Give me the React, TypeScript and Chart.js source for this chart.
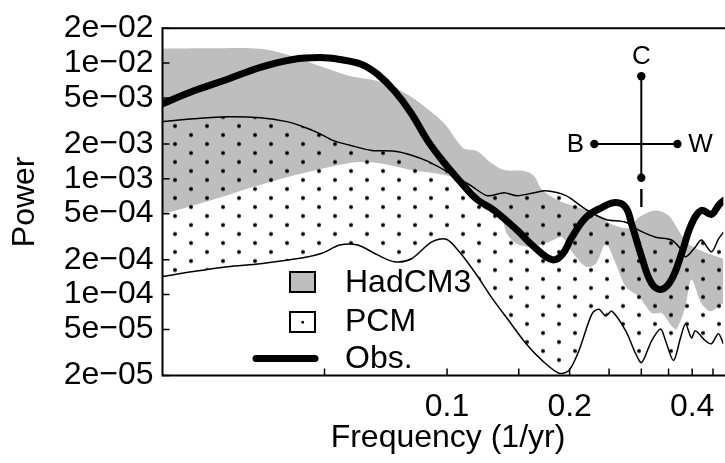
import React, { useEffect, useRef } from "react";
import { Chart, registerables } from "chart.js";

Chart.register(...registerables);

const FONT = "'Liberation Sans', Arial, Helvetica, sans-serif";

// ---- Data (frequency in 1/yr, power) ----
const HADCM3_UPPER_FREQ = [0.02, 0.0262, 0.0348, 0.0418, 0.0487, 0.0577, 0.0675, 0.0743, 0.0818, 0.0895, 0.0985, 0.106, 0.11, 0.1186, 0.1284, 0.1381, 0.1546, 0.1636, 0.1711, 0.1883, 0.2108, 0.232, 0.2539, 0.2794, 0.2956, 0.3253, 0.35, 0.3703, 0.3918, 0.4385, 0.4772];
const HADCM3_UPPER_POWER = [0.0133, 0.0134, 0.0133, 0.01146, 0.00941, 0.00773, 0.00701, 0.00619, 0.00509, 0.00402, 0.003, 0.0021, 0.00183, 0.00173, 0.00137, 0.00119, 0.00117, 0.00106, 0.000804, 0.000648, 0.000565, 0.000492, 0.000405, 0.000375, 0.000464, 0.000533, 0.000483, 0.00036, 0.000273, 0.000225, 0.000204];

const HADCM3_LOWER_FREQ = [0.02, 0.0252, 0.0382, 0.0577, 0.0675, 0.0818, 0.0985, 0.11, 0.1234, 0.1358, 0.1405, 0.1486, 0.1608, 0.178, 0.1915, 0.2026, 0.2193, 0.232, 0.2454, 0.2596, 0.2747, 0.2956, 0.318, 0.3365, 0.356, 0.3662, 0.3852, 0.3984, 0.4215, 0.4435, 0.4772];
const HADCM3_LOWER_POWER = [0.000492, 0.000623, 0.000979, 0.00137, 0.00137, 0.00119, 0.00108, 0.00096, 0.000623, 0.000464, 0.000332, 0.000273, 0.000258, 0.000284, 0.000313, 0.000234, 0.000174, 0.000185, 0.000273, 0.000185, 0.000117, 0.0000965, 0.0000692, 0.0000692, 0.0000536, 0.0000505, 0.0000793, 0.000135, 0.0000841, 0.0000719, 0.0000841];

const PCM_UPPER_FREQ = [0.02, 0.0238, 0.0289, 0.0348, 0.0404, 0.0443, 0.0487, 0.0524, 0.0577, 0.0653, 0.0743, 0.0818, 0.0895, 0.0985, 0.106, 0.1147, 0.1255, 0.1381, 0.1486, 0.1636, 0.175, 0.1959, 0.2193, 0.2454, 0.2747, 0.2956, 0.3253, 0.356, 0.3745, 0.3852, 0.4075, 0.4215, 0.446, 0.4639, 0.4772];
const PCM_UPPER_POWER = [0.00312, 0.0033, 0.00344, 0.00337, 0.00312, 0.00282, 0.00246, 0.00215, 0.00195, 0.00176, 0.00173, 0.0016, 0.00142, 0.00119, 0.00102, 0.00087, 0.000715, 0.000758, 0.000715, 0.000758, 0.000788, 0.000715, 0.000543, 0.000446, 0.000421, 0.00036, 0.000313, 0.000296, 0.000248, 0.000212, 0.000258, 0.000296, 0.000234, 0.000301, 0.000346];

const PCM_LOWER_FREQ = [0.02, 0.0238, 0.0289, 0.0348, 0.0443, 0.0495, 0.0545, 0.0603, 0.0675, 0.0743, 0.0818, 0.0915, 0.0996, 0.1072, 0.118, 0.1291, 0.142, 0.1564, 0.1711, 0.1883, 0.1992, 0.2108, 0.2268, 0.2359, 0.2454, 0.2539, 0.2747, 0.2906, 0.3006, 0.318, 0.3346, 0.3441, 0.36, 0.3745, 0.3852, 0.3984, 0.4075, 0.4311, 0.446, 0.4639, 0.4772];
const PCM_LOWER_POWER = [0.000143, 0.000158, 0.000174, 0.000185, 0.000208, 0.000229, 0.000268, 0.000268, 0.00022, 0.000192, 0.000204, 0.000284, 0.000301, 0.000234, 0.000149, 0.0000928, 0.0000591, 0.0000376, 0.000027, 0.0000209, 0.0000221, 0.0000328, 0.0000678, 0.0000748, 0.0000652, 0.0000719, 0.0000486, 0.0000309, 0.0000259, 0.0000399, 0.0000505, 0.0000399, 0.000027, 0.0000423, 0.0000557, 0.0000423, 0.0000486, 0.0000399, 0.0000376, 0.0000458, 0.0000376];

const OBS_FREQ = [0.02, 0.0238, 0.0289, 0.0348, 0.0418, 0.0487, 0.0545, 0.0617, 0.0675, 0.0743, 0.0818, 0.0895, 0.0985, 0.1084, 0.1186, 0.1306, 0.1486, 0.1636, 0.181, 0.1915, 0.2026, 0.2193, 0.2399, 0.2596, 0.2747, 0.2841, 0.3006, 0.318, 0.3365, 0.356, 0.3766, 0.3984, 0.4215, 0.446, 0.4639, 0.4772];
const OBS_POWER = [0.00444, 0.00573, 0.00725, 0.00918, 0.01074, 0.01116, 0.01074, 0.00973, 0.008, 0.00573, 0.00365, 0.00215, 0.00137, 0.000923, 0.000661, 0.000533, 0.00036, 0.000258, 0.0002, 0.00022, 0.000313, 0.000464, 0.000565, 0.000623, 0.000565, 0.000405, 0.000212, 0.000125, 0.000111, 0.000135, 0.000225, 0.000405, 0.000533, 0.000492, 0.000587, 0.000648];

const LEGEND_LABELS = ["HadCM3", "PCM", "Obs."];

const X_MIN = 0.02;
const X_MAX = 0.4772;
const Y_MIN = 2e-5;
const Y_MAX = 2e-2;
const X_TICKS = [0.05, 0.1, 0.15, 0.2, 0.25, 0.3, 0.35, 0.4, 0.45];
const X_TICK_LABELS = ["", "0.1", "", "0.2", "", "", "", "0.4", ""];
const Y_TICKS = [2e-5, 5e-5, 1e-4, 2e-4, 5e-4, 1e-3, 2e-3, 5e-3, 1e-2, 2e-2];
const Y_TICK_LABELS = ["2e\u221205", "5e\u221205", "1e\u221204", "2e\u221204", "5e\u221204", "1e\u221203", "2e\u221203", "5e\u221203", "1e\u221202", "2e\u221202"];

// Inset diagram (C / B / W / I cross), in data coordinates
const CROSS_X = 0.3;
const CROSS_X_LEFT = 0.23;
const CROSS_X_RIGHT = 0.368;
const CROSS_Y = 2.0e-3;
const CROSS_Y_TOP = 7.7e-3;
const CROSS_Y_BOTTOM = 1.02e-3;

const GREY = "#BEBEBE";

const pts = (xs: number[], ys: number[]) => xs.map((x, i) => ({ x, y: ys[i] }));

function makeDotPattern(ctx: CanvasRenderingContext2D): CanvasPattern | string {
  const tile = document.createElement("canvas");
  tile.width = 32;
  tile.height = 18;
  const g = tile.getContext("2d")!;
  g.fillStyle = "#000";
  [[8, 4.5], [24, 13.5]].forEach(([x, y]) => {
    g.beginPath();
    g.arc(x, y, 2, 0, Math.PI * 2);
    g.fill();
  });
  const p = ctx.createPattern(tile, "repeat");
  if (!p) return "rgba(0,0,0,0)";
  try {
    p.setTransform(new DOMMatrix().translate(7, 13.5));
  } catch (e) {}
  return p;
}

const decorPlugin = {
  id: "decor",
  afterDatasetsDraw(chart: any) {
    const { ctx } = chart;
    const xs = chart.scales.x;
    const ys = chart.scales.y;
    ctx.save();
    // cross diagram
    const cx = xs.getPixelForValue(CROSS_X);
    const cy = ys.getPixelForValue(CROSS_Y);
    const top = ys.getPixelForValue(CROSS_Y_TOP);
    const bot = ys.getPixelForValue(CROSS_Y_BOTTOM);
    const lx = xs.getPixelForValue(CROSS_X_LEFT);
    const rx = xs.getPixelForValue(CROSS_X_RIGHT);
    ctx.strokeStyle = "#000";
    ctx.lineWidth = 2;
    ctx.beginPath();
    ctx.moveTo(cx, top);
    ctx.lineTo(cx, bot);
    ctx.moveTo(lx, cy);
    ctx.lineTo(rx, cy);
    ctx.stroke();
    ctx.fillStyle = "#000";
    [[cx, top], [cx, bot], [lx, cy], [rx, cy]].forEach(([px, py]) => {
      ctx.beginPath();
      ctx.arc(px, py, 4.2, 0, Math.PI * 2);
      ctx.fill();
    });
    ctx.font = `26px ${FONT}`;
    ctx.textAlign = "center";
    ctx.textBaseline = "middle";
    ctx.fillText("C", cx, top - 19);
    ctx.fillText("I", cx, bot + 22);
    ctx.fillText("B", lx - 19, cy + 1);
    ctx.fillText("W", rx + 23, cy + 1);

    // legend
    ctx.lineWidth = 2;
    ctx.fillStyle = GREY;
    ctx.fillRect(290, 272, 25, 20);
    ctx.strokeRect(290, 272, 25, 20);
    ctx.fillStyle = "#fff";
    ctx.fillRect(290, 312, 25, 20);
    ctx.strokeRect(290, 312, 25, 20);
    ctx.fillStyle = "#000";
    ctx.fillRect(301.5, 321, 2.5, 2.5);
    ctx.lineWidth = 7;
    ctx.lineCap = "round";
    ctx.beginPath();
    ctx.moveTo(256, 358.5);
    ctx.lineTo(315, 358.5);
    ctx.stroke();
    ctx.font = `32px ${FONT}`;
    ctx.textAlign = "left";
    ctx.textBaseline = "middle";
    ctx.fillText(LEGEND_LABELS[0], 345, 283);
    ctx.fillText(LEGEND_LABELS[1], 345, 322);
    ctx.fillText(LEGEND_LABELS[2], 345, 359);
    ctx.restore();
  },
  afterDraw(chart: any) {
    const { ctx, chartArea: a } = chart;
    const xs = chart.scales.x;
    const ys = chart.scales.y;
    ctx.save();
    ctx.strokeStyle = "#000";
    ctx.lineWidth = 2;
    ctx.beginPath();
    ctx.moveTo(a.right + 5, a.top);
    ctx.lineTo(a.left, a.top);
    ctx.lineTo(a.left, a.bottom);
    ctx.lineTo(a.right + 5, a.bottom);
    ctx.stroke();
    ctx.lineWidth = 1.5;
    ctx.beginPath();
    xs.ticks.forEach((t: any) => {
      const px = xs.getPixelForValue(t.value);
      ctx.moveTo(px, a.bottom);
      ctx.lineTo(px, a.bottom - 7);
    });
    ys.ticks.forEach((t: any) => {
      const py = ys.getPixelForValue(t.value);
      ctx.moveTo(a.left, py);
      ctx.lineTo(a.left + 7, py);
    });
    ctx.stroke();
    // axis titles
    ctx.fillStyle = "#000";
    ctx.font = `32px ${FONT}`;
    ctx.textAlign = "center";
    ctx.textBaseline = "alphabetic";
    ctx.fillText("Frequency (1/yr)", 448, 447);
    ctx.translate(25, (a.top + a.bottom) / 2);
    ctx.rotate(-Math.PI / 2);
    ctx.textBaseline = "middle";
    ctx.fillText("Power", 0, 0);
    ctx.restore();
  },
};

export default function App() {
  const ref = useRef<HTMLCanvasElement>(null);
  useEffect(() => {
    const canvas = ref.current!;
    const ctx = canvas.getContext("2d")!;
    const dots = makeDotPattern(ctx);
    const common = { pointRadius: 0, pointHoverRadius: 0, clip: 0 as any };
    const chart = new Chart(ctx, {
      type: "line",
      data: {
        datasets: [
          {
            label: "Obs.",
            data: pts(OBS_FREQ, OBS_POWER),
            borderColor: "#000",
            borderWidth: 7,
            tension: 0.4,
            fill: false,
            borderCapStyle: "round",
            borderJoinStyle: "round",
            ...common,
          },
          {
            label: "PCM",
            data: pts(PCM_UPPER_FREQ, PCM_UPPER_POWER),
            borderColor: "#000",
            borderWidth: 1.5,
            tension: 0.3,
            fill: 2,
            backgroundColor: dots as any,
            ...common,
          },
          {
            label: "PCM lower",
            data: pts(PCM_LOWER_FREQ, PCM_LOWER_POWER),
            borderColor: "#000",
            borderWidth: 1.5,
            tension: 0.3,
            fill: false,
            ...common,
          },
          {
            label: "HadCM3",
            data: pts(HADCM3_UPPER_FREQ, HADCM3_UPPER_POWER),
            borderColor: "rgba(0,0,0,0)",
            borderWidth: 1,
            tension: 0.3,
            fill: 4,
            backgroundColor: GREY,
            ...common,
          },
          {
            label: "HadCM3 lower",
            data: pts(HADCM3_LOWER_FREQ, HADCM3_LOWER_POWER),
            borderColor: "rgba(0,0,0,0)",
            borderWidth: 1,
            tension: 0.3,
            fill: false,
            ...common,
          },
        ],
      },
      options: {
        responsive: false,
        animation: false,
        devicePixelRatio: 1,
        events: [],
        layout: { padding: { top: 23.5, left: 0, right: 0, bottom: 0 } },
        plugins: {
          legend: { display: false },
          tooltip: { enabled: false },
        },
        scales: {
          x: {
            type: "logarithmic",
            min: X_MIN,
            max: X_MAX,
            grid: { display: false, drawTicks: false },
            border: { display: false },
            afterBuildTicks: (s: any) => {
              s.ticks = X_TICKS.map((v) => ({ value: v }));
            },
            afterFit: (s: any) => {
              s.height = 87.5;
            },
            ticks: {
              autoSkip: false,
              maxRotation: 0,
              minRotation: 0,
              padding: 12,
              color: "#000",
              font: { family: FONT, size: 32 },
              callback: (_v: any, i: number) => X_TICK_LABELS[i],
            },
          },
          y: {
            type: "logarithmic",
            min: Y_MIN,
            max: Y_MAX,
            grid: { display: false, drawTicks: false },
            border: { display: false },
            afterBuildTicks: (s: any) => {
              s.ticks = Y_TICKS.map((v) => ({ value: v }));
            },
            afterFit: (s: any) => {
              s.width = 162.5;
            },
            ticks: {
              autoSkip: false,
              padding: 9,
              color: "#000",
              font: { family: FONT, size: 32 },
              callback: (_v: any, i: number) => Y_TICK_LABELS[i],
            },
          },
        },
      } as any,
      plugins: [decorPlugin],
    });
    return () => chart.destroy();
  }, []);
  return (
    <div
      style={{
        position: "fixed",
        left: 0,
        top: 0,
        width: 725,
        height: 463,
        overflow: "hidden",
        background: "#fff",
      }}
    >
      <canvas ref={ref} width={725} height={463} style={{ display: "block", width: 725, height: 463 }} />
    </div>
  );
}
